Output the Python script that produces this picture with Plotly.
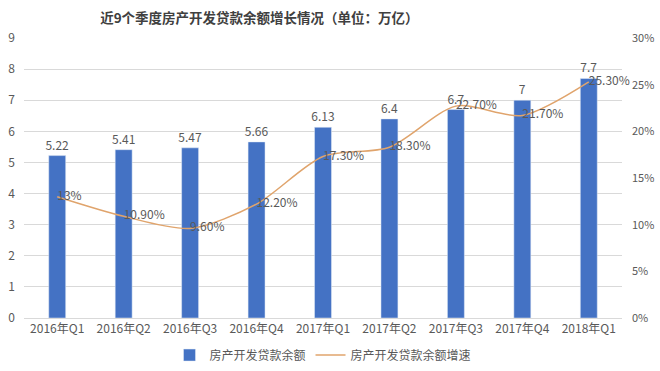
import plotly.graph_objects as go

categories = ["2016年Q1", "2016年Q2", "2016年Q3", "2016年Q4", "2017年Q1", "2017年Q2", "2017年Q3", "2017年Q4", "2018年Q1"]
balance = [5.22, 5.41, 5.47, 5.66, 6.13, 6.4, 6.7, 7, 7.7]
balance_labels = ["5.22", "5.41", "5.47", "5.66", "6.13", "6.4", "6.7", "7", "7.7"]
growth = [13, 10.9, 9.6, 12.2, 17.3, 18.3, 22.7, 21.7, 25.3]
growth_labels = ["13%", "10.90%", "9.60%", "12.20%", "17.30%", "18.30%", "22.70%", "21.70%", "25.30%"]
left_ticks = [0, 1, 2, 3, 4, 5, 6, 7, 8, 9]
right_ticks = [0, 5, 10, 15, 20, 25, 30]
right_tick_labels = ["0%", "5%", "10%", "15%", "20%", "25%", "30%"]

font_family = "Noto Sans CJK SC, Noto Sans, sans-serif"
gray = "#595959"

fig = go.Figure()
fig.add_trace(go.Bar(
    x=categories, y=balance, name="房产开发贷款余额",
    marker_color="#4472C4",
    text=balance_labels, textposition="outside", cliponaxis=False,
    constraintext="none",
    textfont=dict(size=12, color=gray),
))
fig.add_trace(go.Scatter(
    x=categories, y=growth, name="房产开发贷款余额增速", yaxis="y2",
    mode="lines+text", line=dict(color="#E0A46C", width=1.5, shape="spline", smoothing=0.8),
    text=growth_labels, textposition="middle right", cliponaxis=False,
    textfont=dict(size=12, color=gray),
))

fig.update_layout(
    width=660, height=371,
    margin=dict(l=24, r=38, t=38, b=53, autoexpand=False),
    paper_bgcolor="white", plot_bgcolor="white",
    font=dict(family=font_family, color=gray, size=12),
    title=dict(text="<b>近9个季度房产开发贷款余额增长情况（单位：万亿）</b>", x=0.393, xanchor="center",
               y=0.952, yanchor="middle", font=dict(size=13.5, color="#404040")),
    bargap=0.745,
    showlegend=True,
    legend=dict(orientation="h", x=0.5, xanchor="center", yref="container", y=0.043, yanchor="middle",
                font=dict(size=12, color=gray), traceorder="normal"),
    xaxis=dict(showgrid=False, showline=True, linecolor="#d9d9d9", ticks="",
               automargin=False, tickfont=dict(size=12, color=gray)),
    yaxis=dict(range=[0, 9], tickvals=left_ticks, showgrid=True, gridcolor="#d9d9d9",
               automargin=False, ticklabelstandoff=8,
               zeroline=False, tickfont=dict(size=12, color=gray), ticks=""),
    yaxis2=dict(range=[0, 30], tickvals=right_ticks, ticktext=right_tick_labels,
                overlaying="y", side="right", showgrid=False, zeroline=False,
                automargin=False, ticklabelstandoff=9,
                tickfont=dict(size=11, color=gray), ticks=""),
)

fig.write_html("out.html", config={"displayModeBar": False},
               post_script="document.body.style.margin='0';document.body.style.overflow='hidden';")
